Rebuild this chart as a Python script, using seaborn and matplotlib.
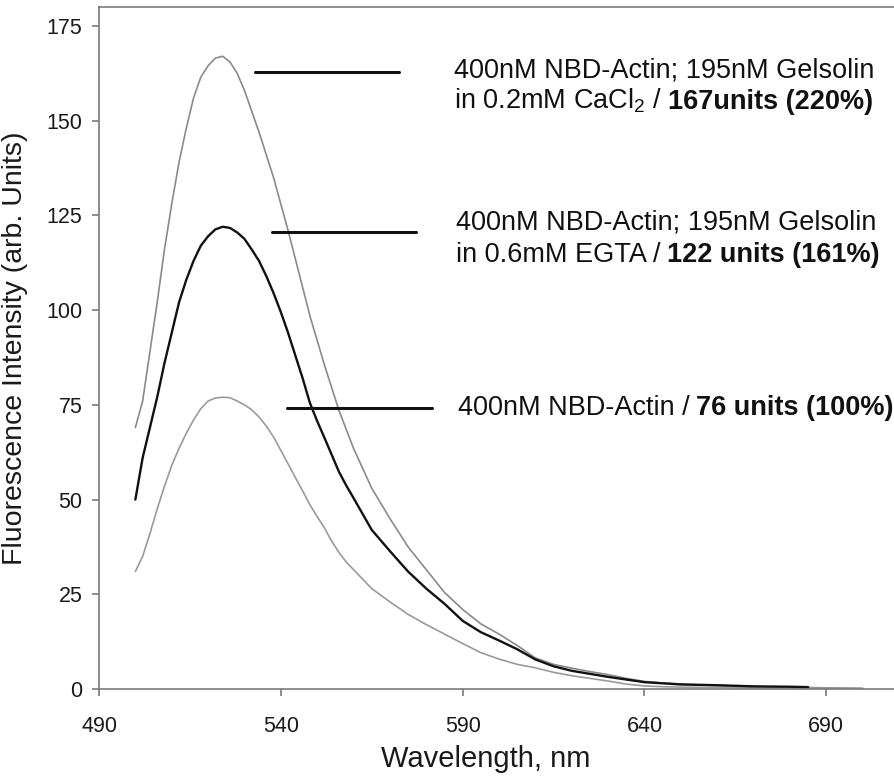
import numpy as np
import pandas as pd
import matplotlib
matplotlib.use("Agg")
import matplotlib.pyplot as plt
import seaborn as sns

# ---------------- data ----------------
wavelength = [500, 502, 504, 506, 508, 510, 512, 514, 516, 518, 520, 522, 524,
              526, 528, 530, 532, 534, 536, 538, 540, 542, 544, 546, 548, 550,
              552, 554, 556, 558, 560, 565, 570, 575, 580, 585, 590, 595, 600,
              605, 610, 615, 620, 625, 630, 635, 640, 645, 650, 660, 670, 680,
              685, 690, 700]

cacl2 = [69, 76, 89, 102, 116, 128, 139, 148, 156, 161.5, 164.5, 166.5, 167,
         165.5, 162.5, 158, 152.5, 147, 141, 135, 128, 121, 113.5, 106, 98.5, 92,
         85.5, 79.5, 73.5, 68.5, 63.5, 53, 45, 37.5, 31.5, 25.5, 21, 17.2, 14.5,
         11.5, 8.2, 6.5, 5.5, 4.6, 3.8, 2.8, 2.0, 1.6, 1.3, 0.9, 0.6, 0.5,
         0.4, 0.3, 0.2]

egta = [50, 61, 69, 77, 86, 94, 102, 108, 113, 117, 119.5, 121.3, 122,
        121.7, 120.5, 118.8, 116, 113, 109, 104.5, 99.5, 94, 88, 82, 75.5, 70.7,
        66.3, 61.8, 57.3, 53.7, 50.4, 42, 36.4, 31, 26.5, 22.5, 18, 15, 12.8,
        10.5, 7.8, 6.0, 4.8, 4.0, 3.2, 2.5, 1.8, 1.5, 1.2, 1.0, 0.7, 0.6,
        0.5, np.nan, np.nan]

actin = [31, 35, 41, 47.5, 53.5, 59, 63.5, 67.5, 71, 74, 76, 76.8, 77,
         76.9, 76, 75, 73.7, 71.8, 69.4, 66.5, 63, 59.4, 55.8, 52.3, 48.6, 45.5,
         42.5, 39, 36, 33.5, 31.5, 26.5, 23, 19.7, 17, 14.5, 12, 9.6, 7.9,
         6.5, 5.6, 4.4, 3.5, 2.8, 2.1, 1.3, 0.8, 0.6, 0.5, 0.4, 0.3, 0.3,
         0.2, 0.2, 0.1]

x_ticks = [490, 540, 590, 640, 690]
y_ticks = [0, 25, 50, 75, 100, 125, 150, 175]

label_cacl2 = ("400nM NBD-Actin; 195nM Gelsolin", "in 0.2mM CaCl$_2$ /", "167units (220%)")
label_egta = ("400nM NBD-Actin; 195nM Gelsolin", "in 0.6mM EGTA /", "122 units (161%)")
label_actin = ("400nM NBD-Actin /", "76 units (100%)")

# ---------------- styling ----------------
sns.set_theme(style="white")
plt.rcParams["font.family"] = ["Liberation Sans", "DejaVu Sans"]
plt.rcParams["mathtext.fontset"] = "custom"
plt.rcParams["mathtext.rm"] = "Liberation Sans"
plt.rcParams["mathtext.it"] = "Liberation Sans:italic"
plt.rcParams["mathtext.bf"] = "Liberation Sans:bold"

fig = plt.figure(figsize=(8.95, 7.78), dpi=100)
W, H = 895, 778
ax = fig.add_axes([99 / W, 89 / H, 800 / W, 682 / H])

df = pd.DataFrame({"wl": wavelength, "cacl2": cacl2, "egta": egta, "actin": actin})

sns.lineplot(data=df, x="wl", y="cacl2", ax=ax, color="#8a8a8a", linewidth=1.2)
sns.lineplot(data=df, x="wl", y="actin", ax=ax, color="#9a9a9a", linewidth=1.2)
sns.lineplot(data=df, x="wl", y="egta", ax=ax, color="#111111", linewidth=1.7)

ax.set_xlim(490, 710)
ax.set_ylim(0, 180)
ax.set_xticks(x_ticks)
ax.set_yticks(y_ticks)

for side in ["left", "bottom", "top"]:
    ax.spines[side].set_visible(True)
    ax.spines[side].set_color("#7a7a7a")
    ax.spines[side].set_linewidth(1.2)
ax.spines["right"].set_visible(False)

ax.tick_params(axis="both", which="major", direction="out", length=5,
               width=1.2, color="#7a7a7a", labelsize=15.5, labelcolor="#1a1a1a",
               left=True, bottom=True)
ax.tick_params(axis="x", pad=14.5)
ax.tick_params(axis="y", pad=7)

ax.set_xlabel("Wavelength, nm", fontsize=21, color="#1a1a1a")
ax.xaxis.set_label_coords((485.5 - 99) / 800, -(745 - 689) / 682)
ax.set_ylabel("Fluorescence Intensity (arb. Units)", fontsize=20.5, color="#1a1a1a")
ax.yaxis.set_label_coords(-(99 - 28) / 800, 0.5)

# annotation leader lines
ax.plot([532.9, 572.5], [162.8, 162.8], color="#111111", linewidth=2.2)
ax.plot([537.6, 577.2], [120.6, 120.6], color="#111111", linewidth=2.2)
ax.plot([541.7, 581.6], [74.1, 74.1], color="#111111", linewidth=2.2)

FS = 19.5
fig.canvas.draw()
renderer = fig.canvas.get_renderer()


def chained(x, y, regular, bold):
    t = ax.text(x, y, regular, fontsize=FS, color="#111111", va="baseline", ha="left")
    bb = t.get_window_extent(renderer=renderer)
    xd = ax.transData.inverted().transform((bb.x1 + 6, 0))[0]
    ax.text(xd, y, bold, fontsize=FS, color="#111111", va="baseline", ha="left",
            fontweight="bold")


def yv(py):
    return (689 - py) / 3.787


def xv(px):
    return 490 + (px - 100) / 3.635


ax.text(xv(455), yv(78), label_cacl2[0], fontsize=FS, color="#111111", va="baseline")
chained(xv(455), yv(109), label_cacl2[1], label_cacl2[2])
ax.text(xv(457), yv(230), label_egta[0], fontsize=FS, color="#111111", va="baseline")
chained(xv(457), yv(262), label_egta[1], label_egta[2])
chained(xv(459), yv(415), label_actin[0], label_actin[1])

fig.savefig("out.png", dpi=100, facecolor="white")
